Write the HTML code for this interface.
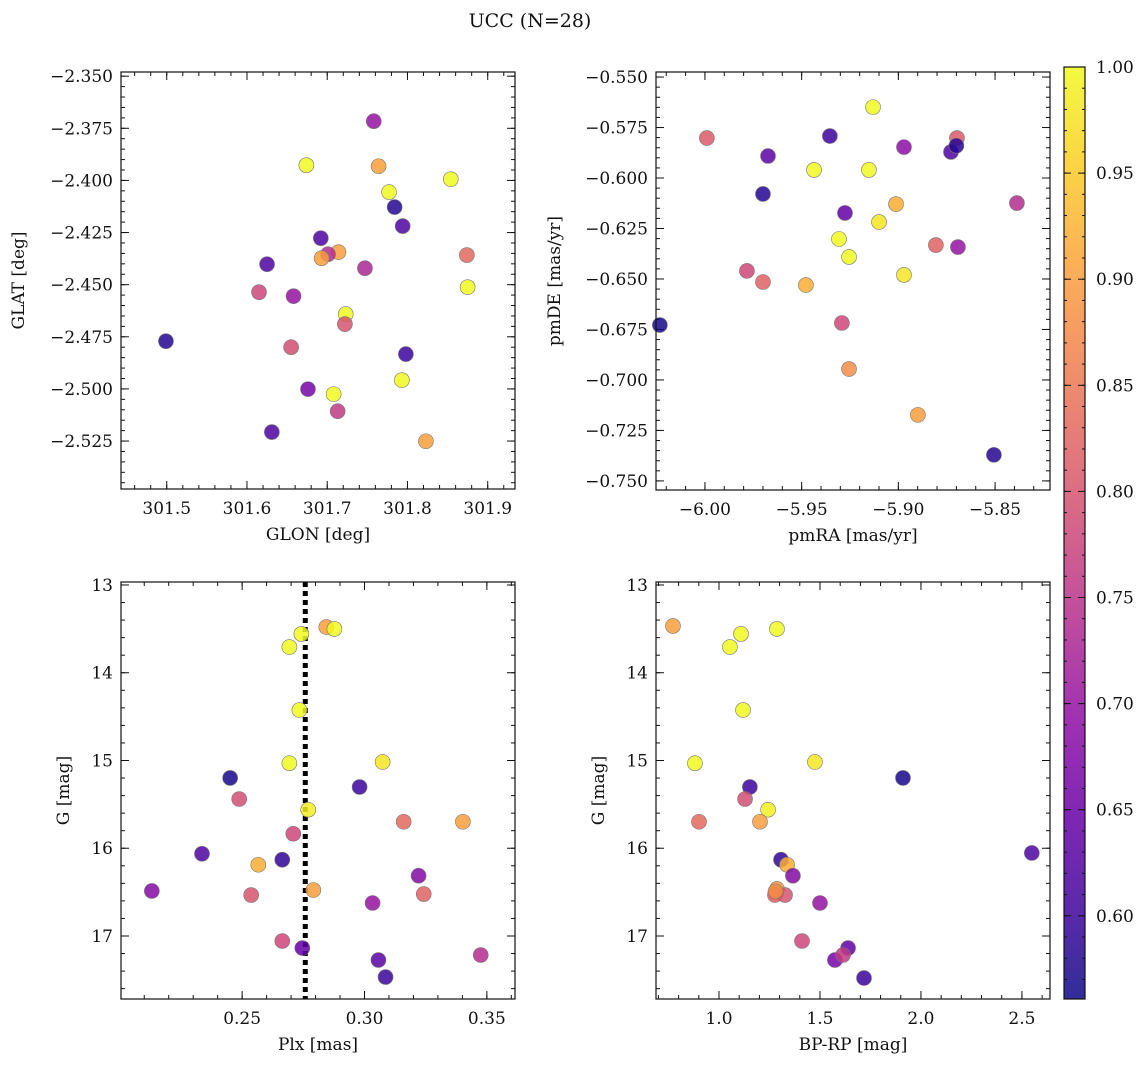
<!DOCTYPE html>
<html><head><meta charset="utf-8"><style>
body{margin:0;background:#fff}
svg text{font-family:"DejaVu Serif","Liberation Serif",serif;fill:#111}
</style></head><body>
<svg id="fig" width="1148" height="1067" xmlns="http://www.w3.org/2000/svg">
<defs><linearGradient id="plasma" x1="0" y1="1" x2="0" y2="0"></linearGradient></defs>
<text x="530" y="27" font-size="19" text-anchor="middle">UCC (N=28)</text>
</svg>
<script>
// Panel 1: GLON vs GLAT
const glon=[301.758,301.674,301.764,301.854,301.777,301.784,301.794,301.692,301.874,301.714,301.701,301.693,301.625,301.747,301.615,301.658,301.723,301.875,301.722,301.499,301.655,301.798,301.793,301.676,301.708,301.713,301.631,301.823];
const glat=[-2.3716,-2.3927,-2.3932,-2.3994,-2.4056,-2.4128,-2.4219,-2.4277,-2.4358,-2.4344,-2.4354,-2.4373,-2.4402,-2.4421,-2.4536,-2.4555,-2.4641,-2.4512,-2.4689,-2.4771,-2.48,-2.4833,-2.4958,-2.5001,-2.5025,-2.5107,-2.5207,-2.5251];
const c1=[0.70,1.0,0.90,1.0,1.0,0.58,0.62,0.62,0.83,0.90,0.74,0.90,0.62,0.73,0.78,0.70,1.0,1.0,0.80,0.58,0.79,0.60,1.0,0.66,1.0,0.76,0.62,0.90];
// Panel 2: pmRA vs pmDE
const pmra=[-5.9131,-5.999,-5.9354,-5.8697,-5.9674,-5.8971,-5.8728,-5.870,-5.9436,-5.9152,-5.97,-5.9012,-5.8387,-5.9276,-5.91,-5.9307,-5.8806,-5.8692,-5.9255,-5.9783,-5.8971,-5.97,-5.9478,-6.0233,-5.9292,-5.9255,-5.8899,-5.8506];
const pmde=[-0.5649,-0.5802,-0.5792,-0.5802,-0.5891,-0.5847,-0.5871,-0.584,-0.596,-0.596,-0.6079,-0.6129,-0.6124,-0.6173,-0.6218,-0.6302,-0.6332,-0.6342,-0.6391,-0.646,-0.648,-0.6515,-0.653,-0.6728,-0.6718,-0.6946,-0.7173,-0.7371];
const c2=[1.0,0.81,0.60,0.81,0.63,0.69,0.62,0.58,1.0,1.0,0.58,0.92,0.74,0.64,0.98,1.0,0.82,0.70,1.0,0.78,0.98,0.82,0.92,0.57,0.78,0.88,0.90,0.58];
// Panel 3: Plx vs G
const plx=[0.2844,0.2877,0.2742,0.2693,0.2734,0.3074,0.2693,0.2451,0.2980,0.2488,0.2770,0.3160,0.3402,0.2709,0.2336,0.2664,0.2566,0.3221,0.2131,0.2791,0.2537,0.3242,0.3033,0.2664,0.2746,0.3057,0.3475,0.3086];
const g3=[13.479,13.501,13.558,13.707,14.425,15.017,15.031,15.199,15.302,15.439,15.561,15.698,15.698,15.835,16.063,16.131,16.188,16.313,16.487,16.476,16.533,16.522,16.624,17.057,17.137,17.274,17.217,17.468];
const c3=[0.90,1.0,1.0,1.0,1.0,0.98,1.0,0.57,0.60,0.79,0.99,0.83,0.90,0.78,0.62,0.59,0.92,0.68,0.68,0.90,0.80,0.82,0.70,0.78,0.64,0.63,0.74,0.60];
const plxLine=[0.2758];
// Panel 4: BP-RP vs G
const bprp=[0.772,1.287,1.109,1.054,1.119,0.881,1.475,1.911,1.153,1.129,1.243,0.901,1.203,1.307,1.337,2.549,1.366,1.287,1.282,1.277,1.327,1.5,1.411,1.639,1.574,1.614,1.718,1.28];
const g4=[13.467,13.501,13.558,13.707,14.425,15.031,15.017,15.199,15.302,15.439,15.561,15.698,15.698,16.131,16.188,16.054,16.313,16.464,16.51,16.533,16.533,16.624,17.057,17.137,17.274,17.217,17.479,16.49];
const c4=[0.90,1.0,1.0,1.0,1.0,1.0,0.98,0.57,0.60,0.79,0.99,0.83,0.90,0.59,0.92,0.62,0.68,0.90,0.90,0.82,0.80,0.70,0.78,0.64,0.66,0.76,0.60,0.88];
const cbTicks=[0.60,0.65,0.70,0.75,0.80,0.85,0.90,0.95,1.00];

const VMIN=0.5608,VMAX=1.0;
const PL=[[0,"#0d0887"],[0.1,"#41049d"],[0.2,"#6a00a8"],[0.3,"#8f0da4"],[0.4,"#b12a90"],[0.5,"#cc4778"],[0.6,"#e16462"],[0.7,"#f2844b"],[0.8,"#fca636"],[0.9,"#fcce25"],[1,"#f0f921"]];
function hex(h){return [1,3,5].map(i=>parseInt(h.substr(i,2),16));}
function plasma(t){t=Math.max(0,Math.min(1,t));for(let i=1;i<PL.length;i++){if(t<=PL[i][0]){const a=PL[i-1],b=PL[i],f=(t-a[0])/(b[0]-a[0]);const A=hex(a[1]),B=hex(b[1]);return "rgb("+A.map((v,k)=>Math.round(v+(B[k]-v)*f)).join(",")+")";}}return PL[PL.length-1][1];}
const NS="http://www.w3.org/2000/svg",svg=document.getElementById("fig");
function el(tag,attrs,parent){const e=document.createElementNS(NS,tag);for(const k in attrs)e.setAttribute(k,attrs[k]);(parent||svg).appendChild(e);return e;}
const grad=document.getElementById("plasma");
PL.forEach(s=>el("stop",{offset:s[0],"stop-color":s[1]},grad));

function fmt(v,d){let s=v.toFixed(d);return s.replace("-","\u2212");}
function panel(o){
  const g=el("g",{});
  
  
  const X=v=>o.x0+(v-o.xmin)/(o.xmax-o.xmin)*(o.x1-o.x0);
  const Y=o.inv?(v=>o.y0+(v-o.ymin)/(o.ymax-o.ymin)*(o.y1-o.y0)):(v=>o.y1-(v-o.ymin)/(o.ymax-o.ymin)*(o.y1-o.y0));
  const tk=(vals,isX,len)=>{vals.forEach(v=>{if(isX){const p=X(v);if(p<o.x0-0.5||p>o.x1+0.5)return;el("line",{x1:p,x2:p,y1:o.y1,y2:o.y1-len,stroke:"#111","stroke-width":1},g);el("line",{x1:p,x2:p,y1:o.y0,y2:o.y0+len,stroke:"#111","stroke-width":1},g);}else{const p=Y(v);if(p<o.y0-0.5||p>o.y1+0.5)return;el("line",{y1:p,y2:p,x1:o.x0,x2:o.x0+len,stroke:"#111","stroke-width":1},g);el("line",{y1:p,y2:p,x1:o.x1,x2:o.x1-len,stroke:"#111","stroke-width":1},g);}});};
  const rng=(a,b,s)=>{const r=[];for(let v=Math.ceil(a/s-1e-6)*s;v<=b+1e-9;v+=s)r.push(+v.toFixed(6));return r;};
  const lo=(a,b)=>Math.min(a,b),hi=(a,b)=>Math.max(a,b);
  tk(rng(o.xmin,o.xmax,o.xminor),true,4);tk(rng(o.xmin,o.xmax,o.xmaj),true,8);
  tk(rng(lo(o.ymin,o.ymax),hi(o.ymin,o.ymax),o.yminor),false,4);tk(rng(lo(o.ymin,o.ymax),hi(o.ymin,o.ymax),o.ymaj),false,8);
  rng(o.xmin,o.xmax,o.xmaj).forEach(v=>{const t=el("text",{x:X(v),y:o.y1+25,"font-size":17,"text-anchor":"middle"},g);t.textContent=fmt(v,o.xd);});
  rng(lo(o.ymin,o.ymax),hi(o.ymin,o.ymax),o.ymaj).forEach(v=>{const t=el("text",{x:o.x0-8,y:Y(v)+6,"font-size":17,"text-anchor":"end"},g);t.textContent=fmt(v,o.yd);});
  const xl=el("text",{x:(o.x0+o.x1)/2,y:o.y1+51,"font-size":17,"text-anchor":"middle"},g);xl.textContent=o.xlabel;
  
  const yl=el("text",{x:0,y:0,"font-size":17,"text-anchor":"middle",transform:`translate(${o.ylx},${(o.y0+o.y1)/2}) rotate(-90)`},g);yl.textContent=o.ylabel;
  
  if(o.vline){o.vline.forEach(v=>{const l=el("line",{x1:X(v),x2:X(v),y1:o.y0,y2:o.y1,stroke:"#000","stroke-width":5,"stroke-dasharray":"5,4"},g);});}
  o.xs.forEach((v,i)=>{const c=el("circle",{cx:X(v),cy:Y(o.ys[i]),r:7.5,fill:plasma((o.cs[i]-VMIN)/(VMAX-VMIN)),"fill-opacity":0.85,stroke:"#777","stroke-width":0.6},g);
    });
  const f=el("rect",{x:o.x0,y:o.y0,width:o.x1-o.x0,height:o.y1-o.y0,fill:"none",stroke:"#111","stroke-width":1.2},g);
  
}
panel({name:"glon-glat-panel",x0:121,x1:515,y0:72,y1:489,xmin:301.443,xmax:301.934,ymin:-2.548,ymax:-2.348,xmaj:0.1,xminor:0.02,ymaj:0.025,yminor:0.005,xd:1,yd:3,xlabel:"GLON [deg]",ylabel:"GLAT [deg]",ylx:24,xs:glon,ys:glat,cs:c1});
panel({name:"pm-panel",x0:656,x1:1050,y0:72,y1:490,xmin:-6.0253,xmax:-5.8216,ymin:-0.7545,ymax:-0.5475,xmaj:0.05,xminor:0.01,ymaj:0.025,yminor:0.005,xd:2,yd:3,xlabel:"pmRA [mas/yr]",ylabel:"pmDE [mas/yr]",ylx:560,xs:pmra,ys:pmde,cs:c2});
panel({name:"plx-g-panel",x0:121,x1:515,y0:582,y1:999,xmin:0.2005,xmax:0.3615,ymin:12.966,ymax:17.718,inv:true,xmaj:0.05,xminor:0.01,ymaj:1,yminor:0.2,xd:2,yd:0,xlabel:"Plx [mas]",ylabel:"G [mag]",ylx:69,xs:plx,ys:g3,cs:c3,vline:plxLine});
panel({name:"cmd-panel",x0:656,x1:1050,y0:582,y1:999,xmin:0.688,xmax:2.639,ymin:12.966,ymax:17.718,inv:true,xmaj:0.5,xminor:0.1,ymaj:1,yminor:0.2,xd:1,yd:0,xlabel:"BP-RP [mag]",ylabel:"G [mag]",ylx:604,xs:bprp,ys:g4,cs:c4});
// colorbar
const cb=el("g",{});

const cy0=67,cy1=999,cx0=1064,cx1=1085;
const CY=v=>cy1-(v-VMIN)/(VMAX-VMIN)*(cy1-cy0);
el("rect",{x:cx0,y:cy0,width:cx1-cx0,height:cy1-cy0,fill:"url(#plasma)","fill-opacity":0.85},cb);
for(let v=0.57;v<=1.0001;v+=0.01){const p=CY(v);el("line",{x1:cx0,x2:cx0+3,y1:p,y2:p,stroke:"#111"},cb);el("line",{x1:cx1,x2:cx1-3,y1:p,y2:p,stroke:"#111"},cb);}
cbTicks.forEach(v=>{const p=CY(v);el("line",{x1:cx0,x2:cx0+7,y1:p,y2:p,stroke:"#111"},cb);el("line",{x1:cx1,x2:cx1-7,y1:p,y2:p,stroke:"#111"},cb);
  const t=el("text",{x:cx1+11,y:p+6,"font-size":17},cb);t.textContent=v.toFixed(2);});
el("rect",{x:cx0,y:cy0,width:cx1-cx0,height:cy1-cy0,fill:"none",stroke:"#111","stroke-width":1.2},cb);
</script>
</body></html>
